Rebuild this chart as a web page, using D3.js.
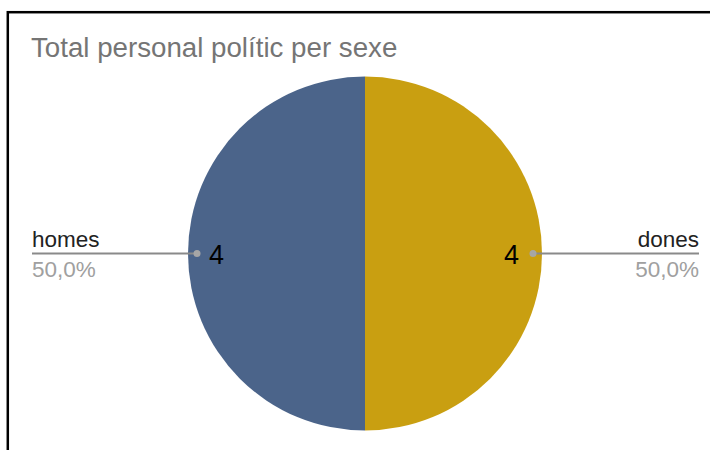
<!DOCTYPE html>
<html>
<head>
<meta charset="utf-8">
<script src="https://cdn.jsdelivr.net/npm/d3@7"></script>
<style>
  html, body { margin: 0; padding: 0; background: #fff; }
  svg { display: block; }
  text { font-family: Arial, "Liberation Sans", sans-serif; }
</style>
</head>
<body>
<svg id="chart" width="710" height="450"></svg>
<script>
const title = "Total personal polític per sexe";
const categories = ["dones", "homes"];
const values = [4, 4];
const colors = ["#c99f11", "#4b648a"];

const svg = d3.select("#chart");

// frame (only top and left edges visible)
svg.append("rect")
  .attr("x", 7.8).attr("y", 12.2)
  .attr("width", 800).attr("height", 600)
  .attr("fill", "none").attr("stroke", "#000").attr("stroke-width", 2.5);

svg.append("text")
  .attr("x", 31).attr("y", 57)
  .attr("font-size", 27.7)
  .attr("fill", "#757575")
  .text(title);

const cx = 365, cy = 253.5, r = 177;
const total = d3.sum(values);
const pie = d3.pie().sort(null).value(d => d)(values);
const arc = d3.arc().innerRadius(0).outerRadius(r);
const g = svg.append("g").attr("transform", `translate(${cx},${cy})`);

g.selectAll("path").data(pie).enter().append("path")
  .attr("d", arc)
  .attr("fill", (d, i) => colors[i]);

const pctFmt = v => (v * 100).toFixed(1).replace(".", ",") + "%";

pie.forEach((d, i) => {
  const mid = (d.startAngle + d.endAngle) / 2;
  const right = Math.sin(mid) > 0;
  const px = Math.sin(mid) * (r - 9), py = -Math.cos(mid) * (r - 9);
  const ax = cx + px, ay = cy + py;
  const ex = right ? 699 : 32;
  svg.append("line")
    .attr("x1", ax).attr("y1", ay).attr("x2", ex).attr("y2", ay)
    .attr("stroke", "#8a8a8a").attr("stroke-width", 2);
  svg.append("circle")
    .attr("cx", ax).attr("cy", ay).attr("r", 3.5)
    .attr("fill", "#a6a6a6");
  // value inside slice
  svg.append("text")
    .attr("x", right ? ax - 14 : ax + 12).attr("y", ay + 10)
    .attr("text-anchor", right ? "end" : "start")
    .attr("font-size", 27).attr("fill", "#000")
    .text(values[i]);
  svg.append("text")
    .attr("x", ex).attr("y", ay - 7)
    .attr("text-anchor", right ? "end" : "start")
    .attr("font-size", 22.5).attr("fill", "#222")
    .text(categories[i]);
  svg.append("text")
    .attr("x", ex).attr("y", ay + 23.5)
    .attr("text-anchor", right ? "end" : "start")
    .attr("font-size", 22.5).attr("fill", "#a0a0a0")
    .text(pctFmt(values[i] / total));
});
</script>
</body>
</html>
